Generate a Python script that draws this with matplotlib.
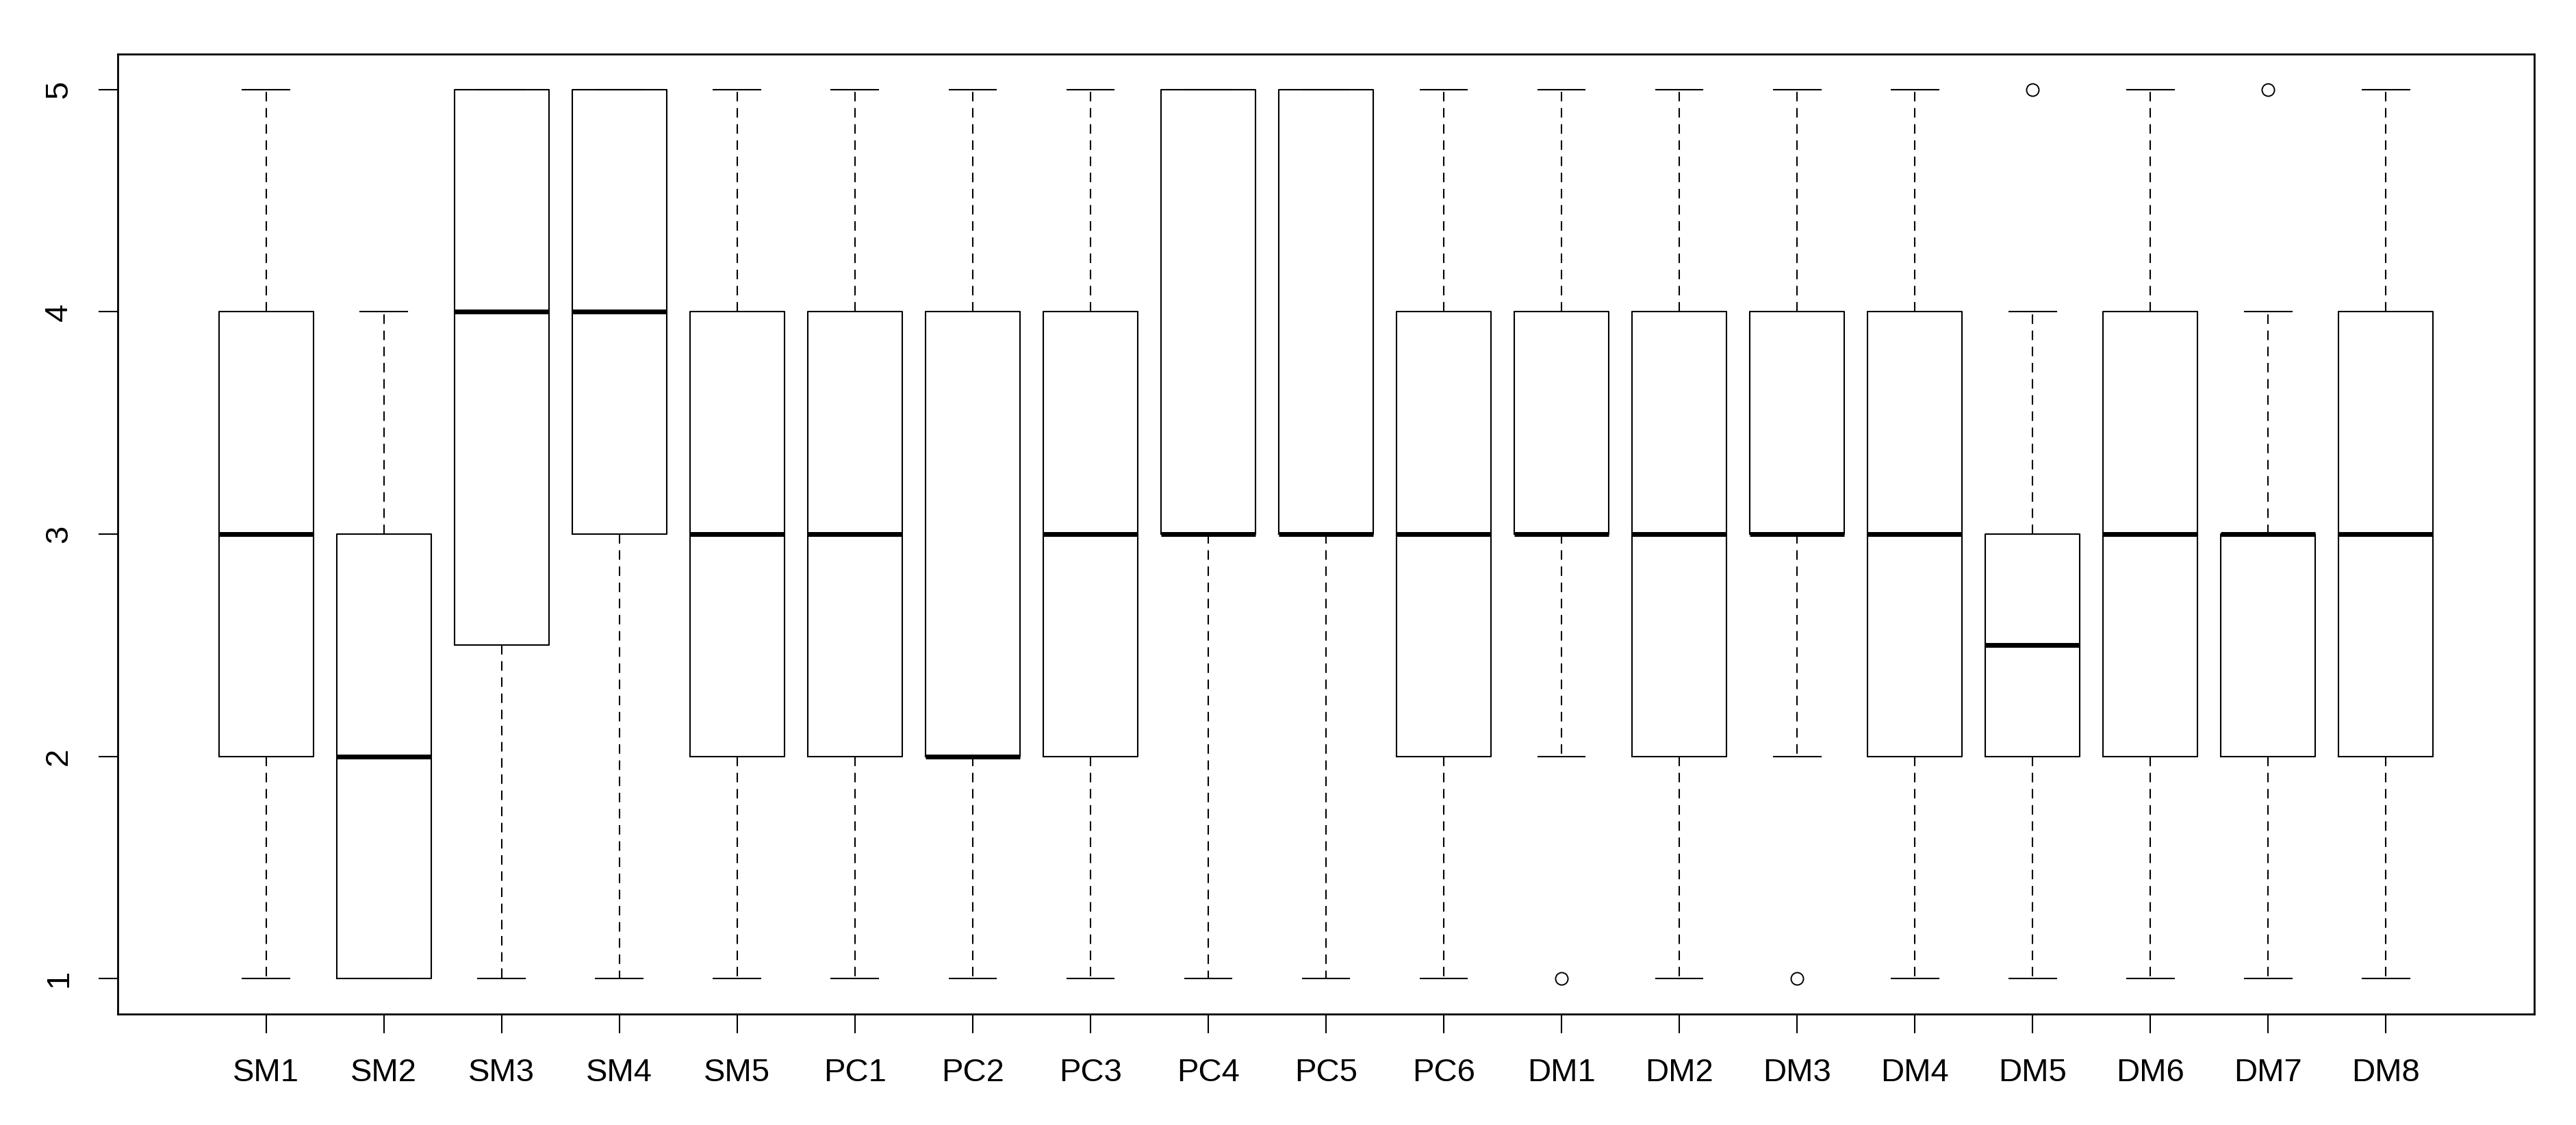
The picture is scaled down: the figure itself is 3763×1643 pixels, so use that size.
import numpy as np
import matplotlib
matplotlib.use("Agg")
import matplotlib.pyplot as plt

# box statistics
names = ["SM1", "SM2", "SM3", "SM4", "SM5", "PC1", "PC2", "PC3", "PC4", "PC5",
         "PC6", "DM1", "DM2", "DM3", "DM4", "DM5", "DM6", "DM7", "DM8"]
whislo = [1, 1, 1, 1, 1, 1, 1, 1, 1, 1, 1, 2, 1, 2, 1, 1, 1, 1, 1]
q1 = [2, 1, 2.5, 3, 2, 2, 2, 2, 3, 3, 2, 3, 2, 3, 2, 2, 2, 2, 2]
med = [3, 2, 4, 4, 3, 3, 2, 3, 3, 3, 3, 3, 3, 3, 3, 2.5, 3, 3, 3]
q3 = [4, 3, 5, 5, 4, 4, 4, 4, 5, 5, 4, 4, 4, 4, 4, 3, 4, 3, 4]
whishi = [5, 4, 5, 5, 5, 5, 5, 5, 5, 5, 5, 5, 5, 5, 5, 4, 5, 4, 5]
fliers = [[], [], [], [], [], [], [], [], [], [], [], [1], [], [1], [], [5], [], [5], []]

plt.rcParams['font.family'] = ['Liberation Sans', 'DejaVu Sans']
plt.rcParams['lines.scale_dashes'] = False

W, H = 3763, 1643
fig = plt.figure(figsize=(W / 100, H / 100), dpi=100)
ax = fig.add_axes([172 / W, 1 - 1481 / H, (3702 - 172) / W, (1481 - 79) / H])

stats = []
for i in range(len(names)):
    stats.append(dict(label=names[i], whislo=whislo[i], q1=q1[i], med=med[i],
                      q3=q3[i], whishi=whishi[i], fliers=fliers[i]))

lw = 1.5
ax.bxp(stats, positions=np.arange(1, len(names) + 1), widths=0.8,
       capwidths=0.4, showfliers=True,
       boxprops=dict(color='black', linewidth=lw),
       whiskerprops=dict(color='black', linewidth=lw, linestyle=(0, (10, 7))),
       capprops=dict(color='black', linewidth=lw),
       medianprops=dict(color='black', linewidth=5, solid_capstyle='butt'),
       flierprops=dict(marker='o', markerfacecolor='none', markeredgecolor='black',
                       markersize=13, markeredgewidth=1.4))

ax.set_xlim(-0.26, 20.26)
ax.set_ylim(0.84, 5.16)
ax.set_yticks([1, 2, 3, 4, 5])
ax.set_yticklabels(['1', '2', '3', '4', '5'], rotation=90, va='center')
ax.set_xticks(np.arange(1, len(names) + 1))
ax.set_xticklabels(names)
ax.tick_params(axis='both', length=20, width=1.5, labelsize=34, pad=26, colors='black')
for s in ax.spines.values():
    s.set_linewidth(2)

fig.savefig("out.png", dpi=100)
